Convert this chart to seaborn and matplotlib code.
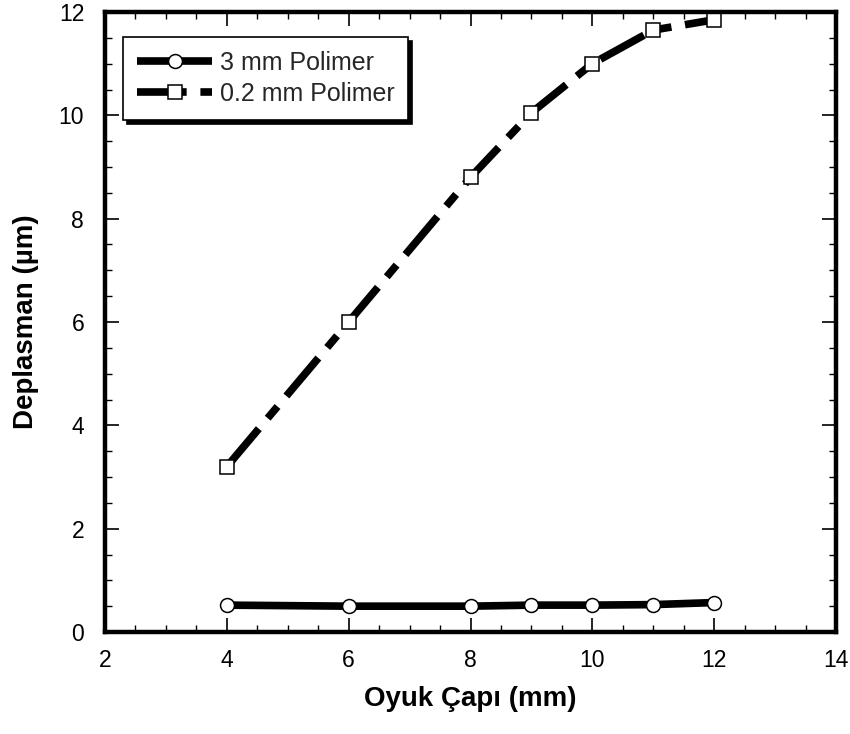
import matplotlib
matplotlib.use("Agg")
import matplotlib.pyplot as plt
import seaborn as sns
import pandas as pd
from matplotlib.ticker import MultipleLocator

# data
oyuk_capi = [4, 6, 8, 9, 10, 11, 12]
polimer_3mm = [0.52, 0.50, 0.50, 0.52, 0.52, 0.53, 0.57]
polimer_02mm = [3.2, 6.0, 8.8, 10.05, 11.0, 11.65, 11.85]

df = pd.DataFrame({
    "Oyuk": oyuk_capi * 2,
    "Deplasman": polimer_3mm + polimer_02mm,
    "Seri": ["3 mm Polimer"] * len(oyuk_capi) + ["0.2 mm Polimer"] * len(oyuk_capi),
})

sns.set_theme(style="ticks")
plt.rcParams["font.family"] = ["Liberation Sans", "DejaVu Sans"]

fig = plt.figure(figsize=(8.5, 7.34), dpi=100)
ax = fig.add_axes([105 / 850, 1 - 632 / 734, 731 / 850, 620 / 734])

sns.lineplot(data=df, x="Oyuk", y="Deplasman", hue="Seri", style="Seri",
             palette=["black", "black"], markers=["o", "s"],
             dashes=[(1, 0), (6.5, 1.8, 2, 1.8)], linewidth=5.5, markersize=10,
             markerfacecolor="white", markeredgecolor="black", markeredgewidth=1.1,
             ax=ax, legend=True)

ax.set_xlim(2, 14)
ax.set_ylim(0, 12)
ax.xaxis.set_major_locator(MultipleLocator(2))
ax.xaxis.set_minor_locator(MultipleLocator(0.5))
ax.yaxis.set_major_locator(MultipleLocator(2))
ax.yaxis.set_minor_locator(MultipleLocator(0.5))
ax.tick_params(which="both", direction="in", top=True, right=True, color="black")
ax.tick_params(which="major", length=10, width=1.2, labelsize=16.5, labelcolor="black")
ax.tick_params(axis="x", which="major", pad=12)
ax.tick_params(axis="y", which="major", pad=15)
ax.tick_params(which="minor", length=5, width=1)
for s in ax.spines.values():
    s.set_linewidth(3.2)
    s.set_color("black")

ax.set_xlabel("Oyuk Çapı (mm)", fontsize=20, fontweight="bold", labelpad=10, color="black")
ax.set_ylabel("Deplasman (µm)", fontsize=20, fontweight="bold", labelpad=14, color="black")

leg = ax.legend(loc="upper left", bbox_to_anchor=(0.025, 0.96), fontsize=18,
                handlelength=3.0, frameon=True, fancybox=False,
                shadow={"ox": 3, "oy": -3, "color": "black", "alpha": 1},
                edgecolor="black", borderpad=0.55, labelspacing=0.3, handletextpad=0.3,
                borderaxespad=0)
leg.get_frame().set_linewidth(1.2)
leg.get_frame().set_alpha(1)

fig.savefig("out.png", dpi=100)
